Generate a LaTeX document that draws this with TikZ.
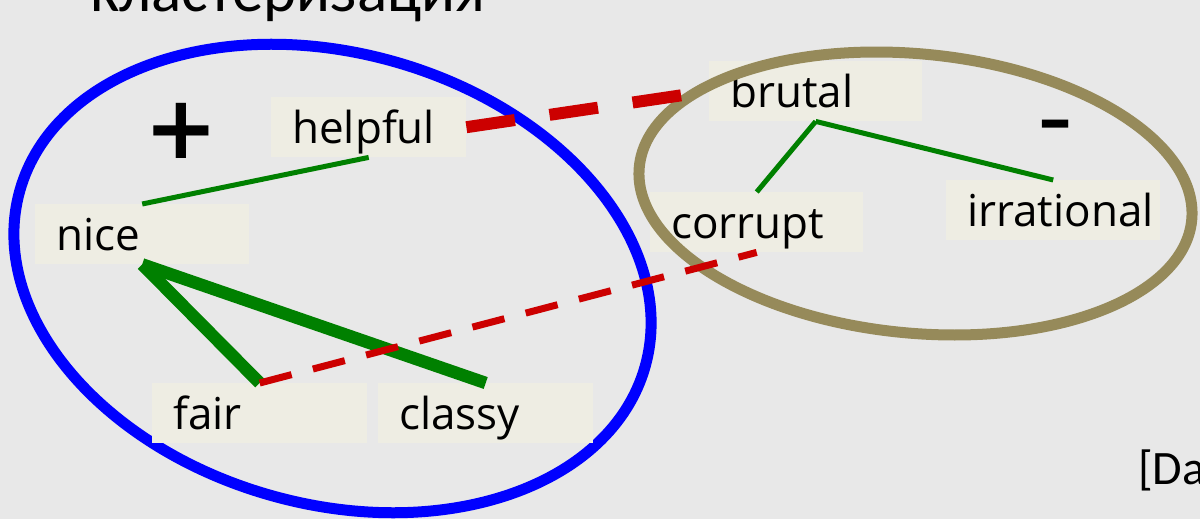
\documentclass[tikz,border=0pt]{standalone}
\usepackage{fontspec}
\setmainfont{Open Sans}
\newfontfamily\calfont{Carlito}
\newfontfamily\symfont{DejaVu Sans}
\definecolor{bgc}{HTML}{E8E8E8}
\definecolor{boxfill}{HTML}{EEEDE3}
\definecolor{eblue}{HTML}{0000FF}
\definecolor{ekhaki}{HTML}{968A5A}
\definecolor{lgreen}{HTML}{008000}
\definecolor{lred}{HTML}{CC0000}
\begin{document}
\begin{tikzpicture}[x=1pt,y=-1pt,
  lbl/.style={anchor=north west, fill=boxfill, minimum height=60pt,
    inner xsep=21pt, inner ysep=0pt, text height=40pt, text depth=8pt,
    align=left, font=\fontsize{44}{50}\selectfont},
  thinlink/.style={draw=lgreen, line width=5pt},
  thicklink/.style={draw=lgreen, line width=12.5pt},
  redthick/.style={draw=lred, line width=12pt, dash pattern=on 49pt off 35pt},
  redthin/.style={draw=lred, line width=7pt, dash pattern=on 33pt off 22pt},
  cluster/.style={line width=11pt}]
\useasboundingbox (0,0) rectangle (1200,519);
\fill[bgc] (0,0) rectangle (1200,519);
% heading (cut off at top)
\node[anchor=base west, inner sep=0pt, font=\calfont\fontsize{63}{70}\selectfont] (title) at (90,12) {кластеризация};
% blue cluster
\draw[cluster, draw=eblue, rotate around={-15.7:(332.5,278.5)}] (332.5,278.5) ellipse [x radius=324.8pt, y radius=225.5pt];
% label boxes
\node[lbl, text width=153pt] (helpful) at (271,97) {helpful};
\node[lbl, text width=172pt] (nice) at (35,204) {nice};
\node[lbl, text width=173pt] (fair) at (152,383) {fair};
\node[lbl, text width=173pt] (classy) at (378,383) {classy};
\node[lbl, text width=171pt] (brutal) at (709,61) {brutal};
\node[lbl, text width=171pt] (corrupt) at (650,192) {corrupt};
\node[lbl, text width=172pt] (irrational) at (946,180) {irrational};
% khaki cluster
\draw[cluster, draw=ekhaki, rotate around={-5.5:(915.5,193.5)}] (915.5,193.5) ellipse [x radius=277.5pt, y radius=139.6pt];
% signs
\node[inner sep=0pt, font=\symfont\bfseries\fontsize{88}{90}\selectfont] (plus) at (181,131) {+};
\node[inner sep=0pt, font=\symfont\fontsize{100}{102}\selectfont] (minus) at (1056,136) {-};
% green links
\draw[thinlink] (helpful.south) -- (nice.north);
\draw[thicklink] (nice.south) -- (fair.north);
\draw[thicklink] (nice.south) -- (classy.north);
\draw[thinlink] (brutal.south) -- (corrupt.north);
\draw[thinlink] (brutal.south) -- (irrational.north);
% red links
\draw[redthick] (helpful.east) -- (brutal.west);
\draw[redthin] (fair.north) -- (corrupt.south);
% citation (cut off at right)
\node[anchor=base west, inner sep=0pt, font=\calfont\fontsize{48}{56}\selectfont] (cite) at (1138,484) {[Da};
\end{tikzpicture}
\end{document}
